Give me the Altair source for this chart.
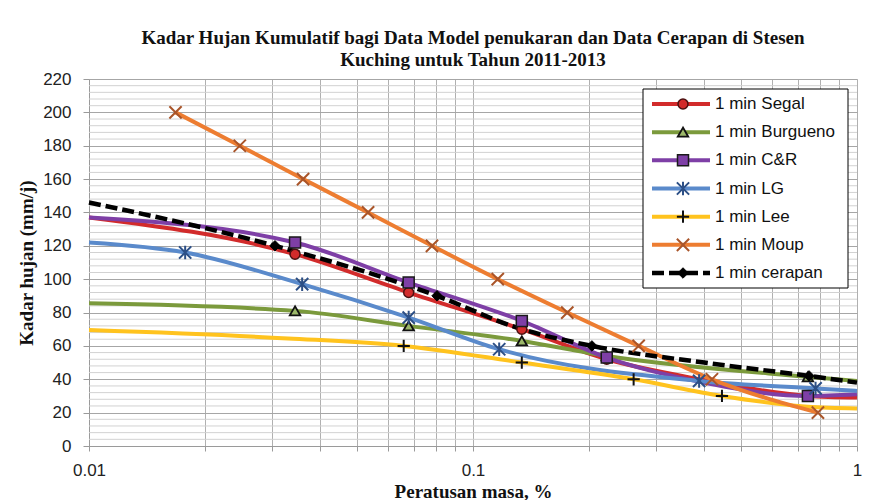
import altair as alt
import pandas as pd

# ---------------- data ----------------
series_names = ["1 min Segal", "1 min Burgueno", "1 min C&R", "1 min LG",
                "1 min Lee", "1 min Moup", "1 min cerapan"]

segal_x = [0.01, 0.0344, 0.068, 0.134, 0.223, 0.39, 0.745, 1.0]
segal_y = [137, 115, 92, 70, 52, 40, 30, 29]
segal_m = [0, 1, 1, 1, 1, 0, 1, 0]

burg_x = [0.01, 0.0344, 0.068, 0.134, 0.223, 0.745, 1.0]
burg_y = [85.5, 81, 72, 63, 54, 41.5, 39]
burg_m = [0, 1, 1, 1, 1, 1, 0]

cr_x = [0.01, 0.0344, 0.068, 0.134, 0.223, 0.39, 0.745, 1.0]
cr_y = [137, 122, 98, 75, 53, 38.5, 30, 31]
cr_m = [0, 1, 1, 1, 1, 0, 1, 0]

lg_x = [0.01, 0.0178, 0.0359, 0.068, 0.117, 0.388, 0.78, 1.0]
lg_y = [122, 116, 97, 77, 58, 39, 34.5, 33]
lg_m = [0, 1, 1, 1, 1, 1, 1, 0]

lee_x = [0.01, 0.033, 0.066, 0.134, 0.262, 0.445, 0.745, 1.0]
lee_y = [69.5, 64.5, 60, 50, 40, 30, 23.5, 22.5]
lee_m = [0, 0, 1, 1, 1, 1, 0, 0]

moup_x = [0.0168, 0.0247, 0.0361, 0.0533, 0.0782, 0.116, 0.176, 0.270, 0.419, 0.791]
moup_y = [200, 180, 160, 140, 120, 100, 80, 60, 40, 20]
moup_m = [1, 1, 1, 1, 1, 1, 1, 1, 1, 1]

cer_x = [0.01, 0.0305, 0.0806, 0.13, 0.204, 0.4, 0.75, 1.0]
cer_y = [146, 120, 90, 71, 60, 50, 42, 38]
cer_m = [0, 1, 1, 0, 1, 0, 1, 0]

x_ticks = [0.01, 0.02, 0.03, 0.04, 0.05, 0.06, 0.07, 0.08, 0.09,
           0.1, 0.2, 0.3, 0.4, 0.5, 0.6, 0.7, 0.8, 0.9, 1]
y_ticks = [0, 20, 40, 60, 80, 100, 120, 140, 160, 180, 200, 220]
y_minor = [v for v in range(4, 220, 4) if v % 20 != 0]

title_lines = ["Kadar Hujan Kumulatif bagi Data Model penukaran dan Data Cerapan di Stesen",
               "Kuching untuk Tahun 2011-2013"]

# ---------------- styles ----------------
X_PATH = "M-1,-1L1,1M-1,1L1,-1"
STAR_PATH = "M-1,-1L1,1M-1,1L1,-1M0,-1.1L0,1.1"
PLUS_PATH = "M-1,0L1,0M0,-1L0,1"

styles = {
    "1 min Segal":    dict(line="#D22B2B", dash=None, shape="circle", fill="#D22B2B", stroke="#4a1010", size=100, sw=1.5),
    "1 min Burgueno": dict(line="#7B9A3C", dash=None, shape="triangle-up", fill="#9CB86A", stroke="#111111", size=110, sw=1.8),
    "1 min C&R":      dict(line="#7E3FA6", dash=None, shape="square", fill="#7E3FA6", stroke="#1a1a1a", size=121, sw=1.5),
    "1 min LG":       dict(line="#5A8ACB", dash=None, shape=STAR_PATH, fill=None, stroke="#2C4F86", size=150, sw=2),
    "1 min Lee":      dict(line="#FFC31E", dash=None, shape=PLUS_PATH, fill=None, stroke="#111111", size=150, sw=2),
    "1 min Moup":     dict(line="#ED7D31", dash=None, shape=X_PATH, fill=None, stroke="#A9552A", size=150, sw=2),
    "1 min cerapan":  dict(line="#000000", dash=[12, 5], shape="diamond", fill="#000000", stroke="#000000", size=110, sw=1),
}

series_data = {
    "1 min Segal": (segal_x, segal_y, segal_m),
    "1 min Burgueno": (burg_x, burg_y, burg_m),
    "1 min C&R": (cr_x, cr_y, cr_m),
    "1 min LG": (lg_x, lg_y, lg_m),
    "1 min Lee": (lee_x, lee_y, lee_m),
    "1 min Moup": (moup_x, moup_y, moup_m),
    "1 min cerapan": (cer_x, cer_y, cer_m),
}

W, H = 768, 367
label_font = "Liberation Sans"
title_font = "Liberation Serif"

x_scale = alt.Scale(type="log", domain=[0.01, 1], nice=False)
y_scale = alt.Scale(domain=[0, 220], nice=False)

x_axis = alt.Axis(values=x_ticks,
                  labelExpr="(datum.value == 0.01 || datum.value == 0.1 || datum.value == 1) ? format(datum.value, '~g') : ''",
                  labelOverlap=False, labelFlush=False,
                  grid=True, gridColor="#B0B0B0", gridWidth=1,
                  domainColor="#9A9A9A", tickColor="#9A9A9A", tickSize=5,
                  labelFont=label_font, labelFontSize=17, labelColor="#222222", labelPadding=11,
                  title="Peratusan masa, %", titleFont=title_font, titleFontSize=19,
                  titleFontWeight="bold", titleColor="#111111",
                  titleY=51, titleBaseline="alphabetic")
y_axis = alt.Axis(values=y_ticks, grid=True, gridColor="#A6A6A6", gridWidth=1,
                  domainColor="#9A9A9A", tickColor="#9A9A9A", tickSize=6,
                  labelFont=label_font, labelFontSize=17, labelColor="#222222", labelPadding=12,
                  title="Kadar hujan (mm/j)", titleFont=title_font, titleFontSize=19,
                  titleFontWeight="bold", titleColor="#111111",
                  titleX=-63, titleBaseline="middle", titleAngle=-90)

X = lambda: alt.X("x:Q", scale=x_scale, axis=x_axis)
Y = lambda: alt.Y("y:Q", scale=y_scale, axis=y_axis)

# minor horizontal gridlines
minor_df = pd.DataFrame({"y": y_minor})
minor = alt.Chart(minor_df).mark_rule(color="#D2D2D2", strokeWidth=1).encode(y=Y())

layers = [minor]
for name in series_names:
    xs, ys, ms = series_data[name]
    st = styles[name]
    df = pd.DataFrame({"x": xs, "y": ys, "m": ms, "series": name})
    line_kw = dict(color=st["line"], strokeWidth=4, interpolate="monotone")
    if st["dash"]:
        line_kw["strokeDash"] = st["dash"]
        line_kw["strokeWidth"] = 4.5
    line = alt.Chart(df).mark_line(**line_kw).encode(x=X(), y=Y())
    layers.append(line)
for name in series_names:
    xs, ys, ms = series_data[name]
    st = styles[name]
    df = pd.DataFrame({"x": xs, "y": ys, "m": ms, "series": name})
    if st["fill"]:
        pt = alt.Chart(df).transform_filter("datum.m == 1").mark_point(
            shape=st["shape"], filled=True, fill=st["fill"], stroke=st["stroke"],
            strokeWidth=st["sw"], size=st["size"], opacity=1)
    else:
        pt = alt.Chart(df).transform_filter("datum.m == 1").mark_point(
            shape=st["shape"], filled=False, color=st["stroke"],
            strokeWidth=st["sw"], size=st["size"], opacity=1)
    layers.append(pt.encode(x=X(), y=Y()))

main = alt.layer(*layers)

# ---------------- legend ----------------
leg_scale = alt.Scale(type="point", domain=series_names, range=[25, 194], padding=0)
LY = lambda: alt.Y("series:N", scale=leg_scale, axis=None)
box = alt.Chart(pd.DataFrame({"series": [series_names[0]]})).mark_rect(
    fill="white", stroke="#000000", strokeWidth=1).encode(
    x=alt.value(554), x2=alt.value(759), y=alt.value(10), y2=alt.value(209))
leg_layers = [box]
for name in series_names:
    st = styles[name]
    d = pd.DataFrame({"series": [name]})
    rk = dict(color=st["line"], strokeWidth=4)
    if st["dash"]:
        rk["strokeDash"] = st["dash"]
        rk["strokeWidth"] = 4.5
    leg_layers.append(alt.Chart(d).mark_rule(**rk).encode(
        x=alt.value(563), x2=alt.value(621), y=LY()))
    if st["fill"]:
        p = alt.Chart(d).mark_point(shape=st["shape"], filled=True, fill=st["fill"],
                                    stroke=st["stroke"], strokeWidth=st["sw"],
                                    size=st["size"], opacity=1)
    else:
        p = alt.Chart(d).mark_point(shape=st["shape"], filled=False, color=st["stroke"],
                                    strokeWidth=st["sw"], size=st["size"], opacity=1)
    leg_layers.append(p.encode(x=alt.value(594), y=LY()))
leg_text = alt.Chart(pd.DataFrame({"series": series_names})).mark_text(
    align="left", baseline="middle", font=label_font, fontSize=17, color="#111111").encode(
    x=alt.value(626), y=LY(), text="series:N")
leg_layers.append(leg_text)
legend = alt.layer(*leg_layers)

chart = alt.layer(main, legend).resolve_scale(y="independent").properties(
    width=W, height=H,
    title=alt.TitleParams(text=title_lines, font=title_font, fontSize=19, fontWeight="bold",
                          color="#111111", anchor="middle", offset=0, lineHeight=22),
    autosize=alt.AutoSizeParams(type="none"),
    padding={"left": 81, "top": 71, "right": 11, "bottom": 54},
).configure_view(stroke=None).configure(background="white")

chart.save("out.html", embed_options={"renderer": "svg", "actions": False})
